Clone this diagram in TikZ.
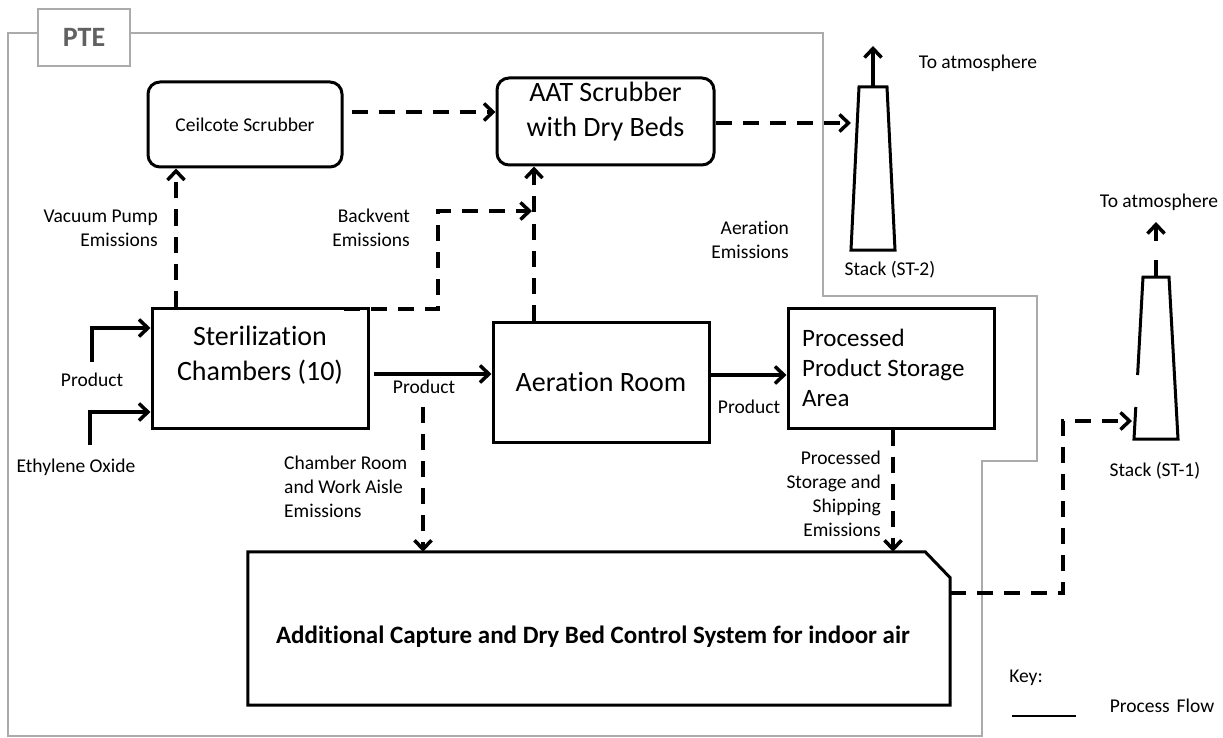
\documentclass[tikz,border=0pt]{standalone}
\usepackage{fontspec}
\setmainfont{Carlito}[Ligatures={NoCommon}]
\usetikzlibrary{arrows.meta,calc}
\begin{document}
\begin{tikzpicture}[x=1pt,y=-1pt,
  box/.style={draw,line width=3pt,inner sep=0pt},
  rbox/.style={box,rounded corners=12pt},
  lbl/.style={font=\fontsize{19.5}{24}\selectfont,inner sep=0pt},
  big/.style={font=\fontsize{28}{35}\selectfont,inner sep=0pt,align=center},
  flow/.style={line width=3.5pt,-{Straight Barb[length=9pt,width=17pt]}},
  dflow/.style={flow,dash pattern=on 16pt off 11pt},
  bound/.style={draw=black!33,line width=2.5pt},
  stack/.style={line width=3pt},
]
\useasboundingbox (0,0) rectangle (1223,738);
% boundary
\draw[bound] (38,33) -| (8,736) -| (982,461) -| (1037,296) -| (823,33) -- (130,33);
\node[draw=black!33,line width=1.5pt,fill=white,minimum width=92pt,minimum height=57pt,inner sep=0pt,
      font=\fontsize{28}{30}\selectfont\bfseries,text=black!62] (pte) at (84,37.5) {PTE};
% boxes
\node[rbox,lbl,minimum width=194pt,minimum height=85pt] (ceil) at (245,124.5) {Ceilcote Scrubber};
\node[rbox,minimum width=217pt,minimum height=87pt] (aat) at (605.5,121.5) {};
\node[big] (aatT) at (605.5,112) {AAT Scrubber\\with Dry Beds};
\node[box,minimum width=216pt,minimum height=120pt] (ster) at (260,368) {};
\node[big] (sterT) at (260,355) {Sterilization\\Chambers (10)};
\node[box,big,minimum width=216pt,minimum height=120pt] (aer) at (601,382) {Aeration Room};
\node[box,minimum width=206pt,minimum height=120pt] (proc) at (891,368) {};
\node[font=\fontsize{25}{30}\selectfont,align=left,anchor=west,inner sep=0pt] (procT) at (802,368) {Processed\\Product Storage\\Area};
\node[minimum width=702pt,minimum height=153pt,inner sep=0pt] (add) at (599,628.5) {};
\draw[line width=3pt] (add.south west) -- (add.north west) -- ([xshift=-25pt]add.north east)
  -- ([yshift=-26pt]add.north east) -- (add.south east) -- cycle;
\node[font=\fontsize{25}{30}\selectfont\bfseries,inner sep=0pt] (addT) at (593,637) {Additional Capture and Dry Bed Control System for indoor air};
% stacks
\draw[stack] (859,87) -- (887,87) -- (895,250) -- (851,250) -- cycle;
\coordinate (st2top) at (873,87);
\coordinate (st2up) at (873,46);
\draw[flow] (st2top) -- (st2up);
\draw[stack] (1137.6,375) -- (1143,277) -- (1169,277) -- (1178,439) -- (1134,439) -- (1135.8,407);
\coordinate (st1top) at (1156,277);
\coordinate (st1up) at (1156,222);
\draw[flow,dash pattern=on 17pt off 19pt] (st1top) -- (st1up);
% labels
\node[lbl,align=right,anchor=east] (vpL) at (158,228.5) {Vacuum Pump\\Emissions};
\node[lbl,align=right,anchor=east] (bvL) at (410,228) {Backvent\\Emissions};
\node[lbl,align=right,anchor=east] (aeL) at (789,240) {Aeration\\Emissions};
\node[lbl,align=left,anchor=west] (crL) at (284,487) {Chamber Room\\and Work Aisle\\Emissions};
\node[lbl,align=right,anchor=east] (psL) at (881,494) {Processed\\Storage and\\Shipping\\Emissions};
\node[lbl] (p1L) at (92,380) {Product};
\node[lbl] (eoL) at (76,467) {Ethylene Oxide};
\node[lbl] (p2L) at (424,387) {Product};
\node[lbl] (p3L) at (749,407) {Product};
\node[lbl] (st2L) at (890,270) {Stack (ST-2)};
\node[lbl] (st1L) at (1155,471) {Stack (ST-1)};
\node[lbl] (at2L) at (978,63) {To atmosphere};
\node[lbl] (at1L) at (1159,202) {To atmosphere};
\node[lbl] (keyL) at (1026,678) {Key:};
\node[lbl] (pfL) at (1162,706) {Process\hspace{0.35em}Flow};
\coordinate (keyA) at (1012,716);
\coordinate (keyB) at (1076,716);
\draw[line width=1.5pt] (keyA) -- (keyB);
% connectors
\coordinate (vpx) at (176,0);
\draw[dflow] (ster.north -| vpx) -- (ceil.south -| vpx);
\coordinate (cy) at (0,112);
\draw[dflow,shorten <=8pt] (ceil.east |- cy) -- (aat.west |- cy);
\coordinate (st2in) at (851,123);
\draw[dflow] (aat.east |- st2in) -- (st2in);
\coordinate (bvs) at (344,309);
\coordinate (bvx) at (438,0);
\coordinate (bve) at (532,211);
\draw[dflow] (bvs) -- (bvs -| bvx) |- (bve);
\coordinate (aex) at (534,0);
\draw[dflow] (aer.north -| aex) -- (aat.south -| aex);
\coordinate (py) at (0,374);
\draw[flow,shorten <=4pt] (ster.east |- py) -- (aer.west |- py);
\coordinate (crs) at (423,407);
\draw[dflow] (crs) -- (add.north -| crs);
\coordinate (p2y) at (0,375);
\draw[flow] (aer.east |- p2y) -- (proc.west |- p2y);
\coordinate (psx) at (893,0);
\draw[dflow] (proc.south -| psx) -- (add.north -| psx);
\coordinate (adY) at (0,593);
\coordinate (st1x) at (1063,0);
\coordinate (st1in) at (1132,421);
\draw[dflow] (add.east |- adY) -- (adY -| st1x) |- (st1in);
\coordinate (in1) at (92,362);
\coordinate (iy1) at (0,328);
\draw[flow] (in1) |- (ster.west |- iy1);
\coordinate (in2) at (90,445);
\coordinate (iy2) at (0,412);
\draw[flow] (in2) |- (ster.west |- iy2);
\end{tikzpicture}
\end{document}
